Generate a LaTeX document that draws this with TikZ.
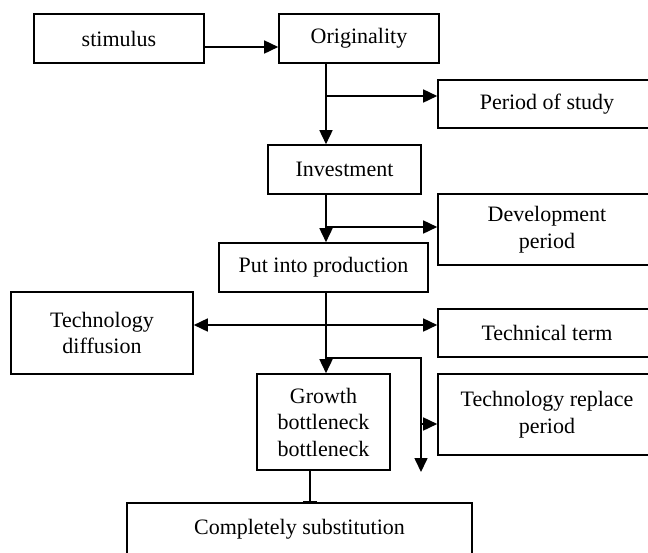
\documentclass[tikz,border=0pt]{standalone}
\usepackage{fontspec}
\setmainfont{Liberation Serif}
\usetikzlibrary{arrows.meta}
\begin{document}
\begin{tikzpicture}[x=1pt,y=-1pt,
 box/.style={draw, line width=1.6pt, inner sep=0pt, align=center, font=\fontsize{22}{26.5}\selectfont},
 conn/.style={line width=1.6pt},
 arr/.style={conn, -{Triangle[length=14pt,width=13pt]}},
 darr/.style={conn, {Triangle[length=14pt,width=13pt]}-{Triangle[length=14pt,width=13pt]}},
 bararr/.style={conn, -{Bar[width=14pt,line width=1.6pt]}},
]
\useasboundingbox (0,0) rectangle (648,552);
\node[box, minimum width=170pt, minimum height=49pt] (stim) at (119,38.5) {stimulus};
\node[box, minimum width=160pt, minimum height=49pt] (orig) at (359,38.5) {Originality};
\node[box, minimum width=218pt, minimum height=48pt] (study) at (547,104) {Period of study};
\node[box, minimum width=153pt, minimum height=49pt] (inv) at (344.5,169.5) {Investment};
\node[box, minimum width=218pt, minimum height=71pt] (dev) at (547,229.5) {Development\\period};
\node[box, minimum width=209pt, minimum height=49pt] (prod) at (323.5,267.5) {Put into production};
\node[box, minimum width=182pt, minimum height=82pt] (diff) at (102,333) {Technology\\diffusion};
\node[box, minimum width=218pt, minimum height=48pt] (term) at (547,333) {Technical term};
\node[box, minimum width=133pt, minimum height=96pt] (growth) at (323.5,422) {Growth\\bottleneck\\bottleneck};
\node[box, minimum width=218pt, minimum height=81pt] (repl) at (547,414.5) {Technology replace\\period};
\node[box, minimum width=345pt, minimum height=53pt] (subst) at (299.5,529.5) {Completely substitution};

\coordinate (j0) at (0,47);
\coordinate (j1) at (326,96);
\coordinate (j2) at (326,227);
\coordinate (j3) at (326,325);
\coordinate (j4) at (326,358);
\coordinate (j5) at (421,358);
\coordinate (j6) at (421,424);
\coordinate (j7) at (421,472);
\coordinate (j8) at (310,0);

\draw[arr] (stim.east |- j0) -- (orig.west |- j0);
\draw[arr] (orig.south -| j1) -- (inv.north -| j1);
\draw[arr] (j1) -- (study.west |- j1);
\draw[arr] (inv.south -| j2) -- (prod.north -| j2);
\draw[arr] (j2) -- (dev.west |- j2);
\draw[arr] (prod.south -| j3) -- (growth.north -| j3);
\draw[darr] (diff.east |- j3) -- (term.west |- j3);
\draw[arr] (j4) -- (j5) -- (j7);
\draw[arr] (j6) -- (repl.west |- j6);
\draw[bararr] (growth.south -| j8) -- (subst.north -| j8);
\end{tikzpicture}
\end{document}
